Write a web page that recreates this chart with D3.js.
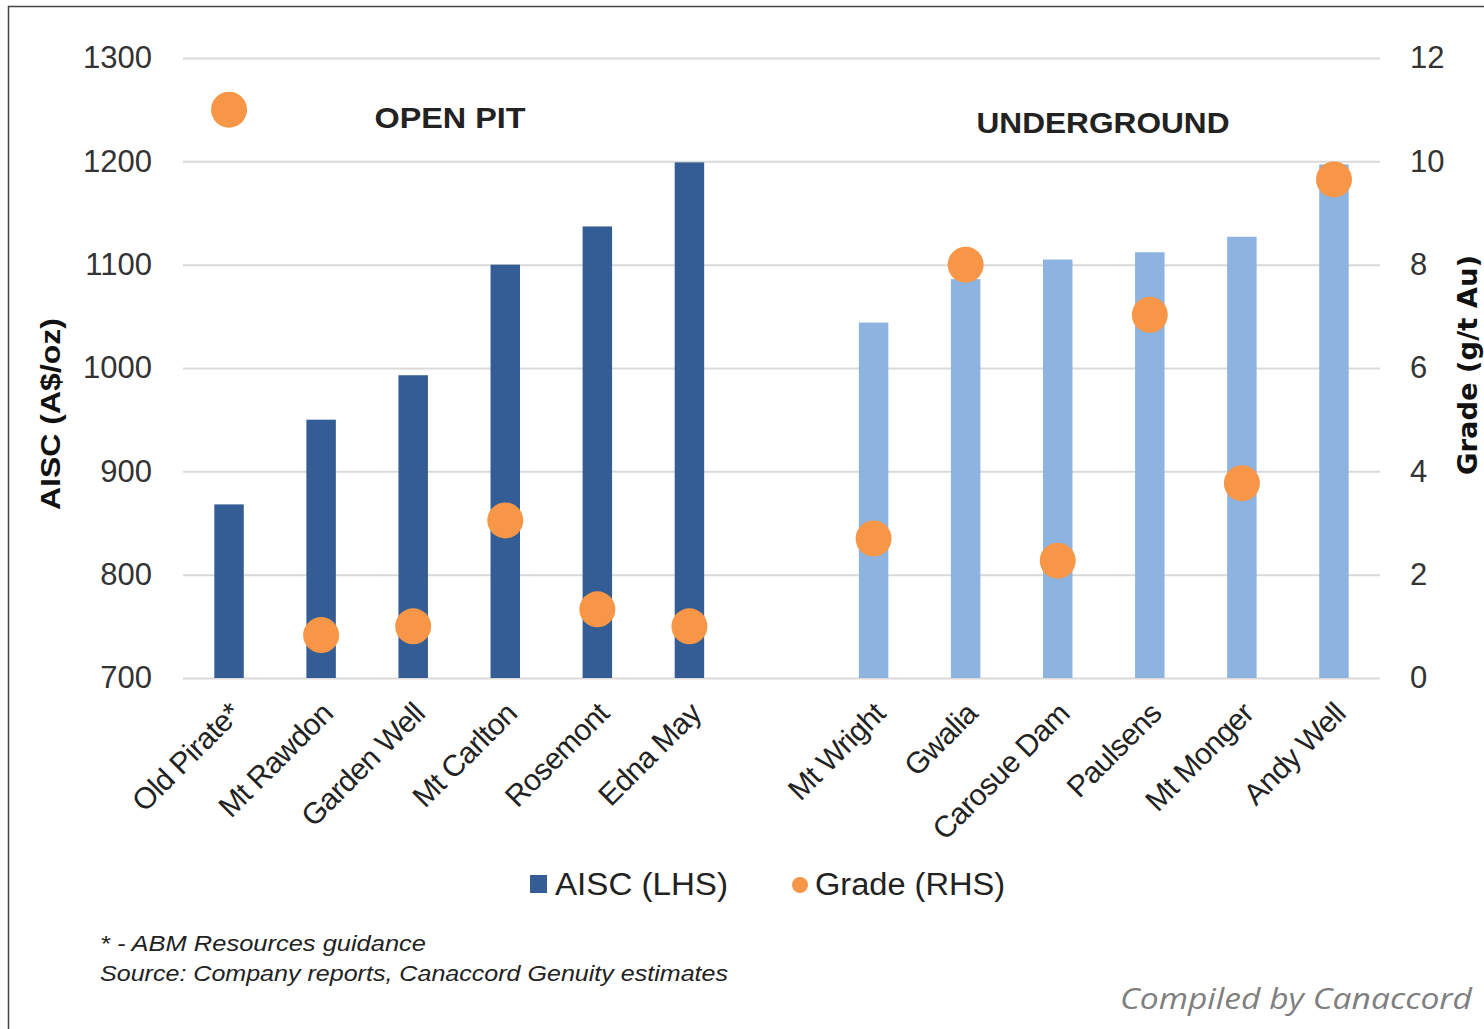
<!DOCTYPE html>
<html>
<head>
<meta charset="utf-8">
<script src="https://cdn.jsdelivr.net/npm/d3@7"></script>
<style>
  html, body { margin: 0; padding: 0; background: #fff; overflow: hidden; }
  svg { display: block; font-family: "Liberation Sans", Arial, sans-serif; }
</style>
</head>
<body>
<svg id="chart" width="1484" height="1029"></svg>
<script>
// ---- data ----
const openPitSites = ["Old Pirate*", "Mt Rawdon", "Garden Well", "Mt Carlton", "Rosemont", "Edna May"];
const openPitAisc  = [868, 950, 993, 1100, 1137, 1199];
const openPitGrade = [11.0, 0.83, 1.0, 3.05, 1.33, 1.0];

const undergroundSites = ["Mt Wright", "Gwalia", "Carosue Dam", "Paulsens", "Mt Monger", "Andy Well"];
const undergroundAisc  = [1044, 1086, 1105, 1112, 1127, 1197];
const undergroundGrade = [2.7, 8.0, 2.27, 7.03, 3.77, 9.65];

const aiscTicks  = [700, 800, 900, 1000, 1100, 1200, 1300];
const gradeTicks = [0, 2, 4, 6, 8, 10, 12];

// ---- config ----
const CONFIG = {
  LEFT: 183, RIGHT: 1380, TOP: 58, BOTTOM: 678,
  DARK: "#335d94",
  LIGHT: "#8db3e0",
  ORANGE: "#f79646",
  GRID: "#d9d9d9",
  BAR_FRAC: 0.32,
  DOT_R: 18,
};

const SPACER = "__gap__";
const rows = [
  ...openPitSites.map((s, i) => ({ site: s, aisc: openPitAisc[i], grade: openPitGrade[i], kind: "open" })),
  ...undergroundSites.map((s, i) => ({ site: s, aisc: undergroundAisc[i], grade: undergroundGrade[i], kind: "under" })),
];

const svg = d3.select("#chart");

// frame (right / bottom edges run off the picture)
svg.append("path")
  .attr("d", "M8.5,1029 L8.5,6.5 L1484,6.5")
  .attr("fill", "none").attr("stroke", "#444").attr("stroke-width", 1.5);

// ---- scales ----
const x = d3.scaleBand()
  .domain([...openPitSites, SPACER, ...undergroundSites])
  .range([CONFIG.LEFT, CONFIG.RIGHT])
  .padding(0);
const step = x.step();
const barW = step * CONFIG.BAR_FRAC;
const cx = d => x(d) + step / 2;

const yL = d3.scaleLinear().domain([700, 1300]).range([CONFIG.BOTTOM, CONFIG.TOP]);
const yR = d3.scaleLinear().domain([0, 12]).range([CONFIG.BOTTOM, CONFIG.TOP]);

// ---- gridlines ----
svg.append("g")
  .attr("transform", `translate(${CONFIG.LEFT},0)`)
  .call(d3.axisLeft(yL).tickValues(aiscTicks).tickSize(-(CONFIG.RIGHT - CONFIG.LEFT)).tickFormat(""))
  .call(g => g.select(".domain").remove())
  .call(g => g.selectAll("line").attr("stroke", CONFIG.GRID).attr("stroke-width", 2));

// ---- left axis ----
svg.append("g")
  .attr("transform", `translate(${CONFIG.LEFT},0)`)
  .call(d3.axisLeft(yL).tickValues(aiscTicks).tickSize(0).tickPadding(31).tickFormat(d3.format("d")))
  .call(g => g.select(".domain").remove())
  .call(g => g.selectAll("text")
    .attr("font-family", "Liberation Sans, Arial, sans-serif")
    .attr("font-size", 31).attr("fill", "#333"));

// ---- right axis ----
svg.append("g")
  .attr("transform", `translate(${CONFIG.RIGHT},0)`)
  .call(d3.axisRight(yR).tickValues(gradeTicks).tickSize(0).tickPadding(30).tickFormat(d3.format("d")))
  .call(g => g.select(".domain").remove())
  .call(g => g.selectAll("text")
    .attr("font-family", "Liberation Sans, Arial, sans-serif")
    .attr("font-size", 31).attr("fill", "#333"));

// ---- category axis ----
svg.append("g")
  .attr("transform", `translate(0,${CONFIG.BOTTOM})`)
  .call(d3.axisBottom(x).tickSize(0).tickFormat(d => d === SPACER ? "" : d))
  .call(g => g.select(".domain").remove())
  .call(g => g.selectAll("text")
    .attr("font-family", "Liberation Sans, Arial, sans-serif")
    .attr("font-size", 30)
    .attr("letter-spacing", -0.6)
    .attr("fill", "#222")
    .attr("text-anchor", "end")
    .attr("x", 0).attr("y", 0).attr("dy", "0.35em")
    .attr("transform", "translate(6,30) rotate(-45)"));

// ---- bars ----
svg.append("g").selectAll("rect")
  .data(rows)
  .join("rect")
  .attr("x", d => cx(d.site) - barW / 2)
  .attr("y", d => yL(d.aisc))
  .attr("width", barW)
  .attr("height", d => yL(700) - yL(d.aisc))
  .attr("fill", d => d.kind === "open" ? CONFIG.DARK : CONFIG.LIGHT);

// ---- grade dots ----
svg.append("g").selectAll("circle")
  .data(rows)
  .join("circle")
  .attr("cx", d => cx(d.site))
  .attr("cy", d => yR(d.grade))
  .attr("r", CONFIG.DOT_R)
  .attr("fill", CONFIG.ORANGE);

// ---- section labels ----
svg.append("text")
  .attr("x", 450).attr("y", 128)
  .attr("text-anchor", "middle")
  .attr("font-size", 30).attr("font-weight", "bold").attr("fill", "#222")
  .attr("textLength", 151).attr("lengthAdjust", "spacingAndGlyphs")
  .text("OPEN PIT");

svg.append("text")
  .attr("x", 1103).attr("y", 133)
  .attr("text-anchor", "middle")
  .attr("font-size", 30).attr("font-weight", "bold").attr("fill", "#222")
  .attr("textLength", 253).attr("lengthAdjust", "spacingAndGlyphs")
  .text("UNDERGROUND");

// ---- axis titles ----
svg.append("text")
  .attr("transform", "translate(60,414) rotate(-90)")
  .attr("text-anchor", "middle")
  .attr("font-size", 28).attr("font-weight", "bold").attr("fill", "#111")
  .attr("textLength", 192).attr("lengthAdjust", "spacingAndGlyphs")
  .text("AISC (A$/oz)");

svg.append("text")
  .attr("transform", "translate(1477,365) rotate(-90)")
  .attr("text-anchor", "middle")
  .attr("font-family", "DejaVu Sans, sans-serif")
  .attr("font-size", 26).attr("font-weight", "bold").attr("fill", "#111")
  .attr("textLength", 220).attr("lengthAdjust", "spacingAndGlyphs")
  .text("Grade (g/t Au)");

// ---- legend ----
const legend = svg.append("g").attr("font-size", 31).attr("fill", "#222");
legend.append("rect").attr("x", 530).attr("y", 875).attr("width", 17).attr("height", 18).attr("fill", CONFIG.DARK);
legend.append("text").attr("x", 555).attr("y", 895)
  .attr("textLength", 173).attr("lengthAdjust", "spacingAndGlyphs")
  .text("AISC (LHS)");
legend.append("circle").attr("cx", 800).attr("cy", 885).attr("r", 8).attr("fill", CONFIG.ORANGE);
legend.append("text").attr("x", 815).attr("y", 895)
  .attr("textLength", 190).attr("lengthAdjust", "spacingAndGlyphs")
  .text("Grade (RHS)");

// ---- footnotes ----
const notes = svg.append("g").attr("font-size", 22).attr("font-style", "italic").attr("fill", "#222");
notes.append("text").attr("x", 100).attr("y", 951)
  .attr("textLength", 326).attr("lengthAdjust", "spacingAndGlyphs")
  .text("* - ABM Resources guidance");
notes.append("text").attr("x", 100).attr("y", 981)
  .attr("textLength", 628).attr("lengthAdjust", "spacingAndGlyphs")
  .text("Source: Company reports, Canaccord Genuity estimates");

svg.append("text")
  .attr("x", 1472).attr("y", 1009)
  .attr("text-anchor", "end")
  .attr("font-family", "Open Sans, sans-serif")
  .attr("font-style", "italic")
  .attr("font-size", 30).attr("fill", "#7f7f7f")
  .attr("textLength", 352).attr("lengthAdjust", "spacingAndGlyphs")
  .text("Compiled by Canaccord");
</script>
</body>
</html>
